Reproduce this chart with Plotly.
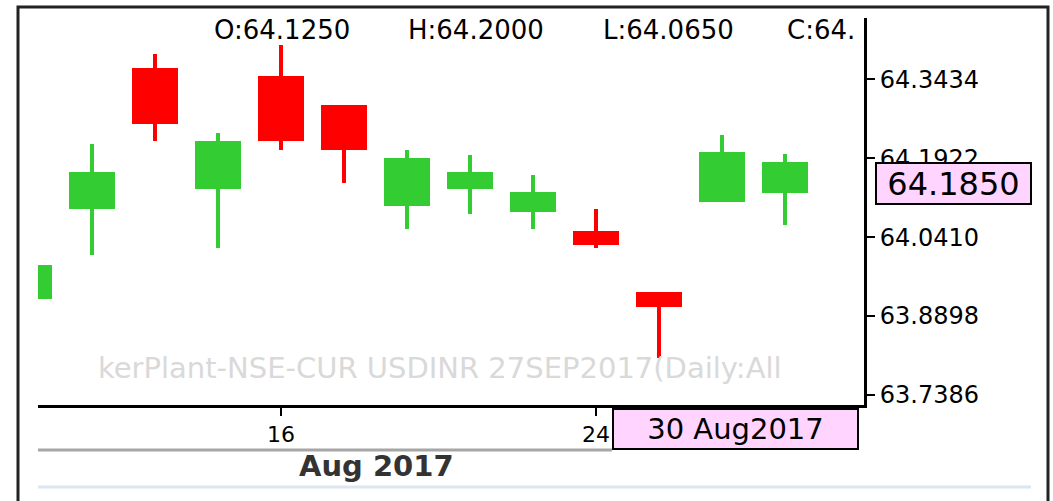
import plotly.graph_objects as go

# ---------------- data ----------------
dates = ["2017-08-09", "2017-08-10", "2017-08-11", "2017-08-14", "2017-08-16", "2017-08-18",
         "2017-08-21", "2017-08-22", "2017-08-23", "2017-08-24", "2017-08-28", "2017-08-29",
         "2017-08-30"]
open_ = [63.9225, 64.0950, 64.3650, 64.1325, 64.3500, 64.2950, 64.1000, 64.1325, 64.0900,
         64.0525, 63.9350, 64.1075, 64.1250]
high = [64.0000, 64.2200, 64.3925, 64.2400, 64.4100, 64.2950, 64.2075, 64.1975, 64.1600,
        64.0950, 63.9350, 64.2375, 64.2000]
low = [63.9150, 64.0075, 64.2250, 64.0200, 64.2075, 64.1450, 64.0575, 64.0850, 64.0575,
       64.0200, 63.8100, 64.1075, 64.0650]
close = [63.9875, 64.1650, 64.2575, 64.2250, 64.2250, 64.2075, 64.1925, 64.1650, 64.1275,
         64.0250, 63.9075, 64.2050, 64.1850]

y_tick_values = [63.7386, 63.8898, 64.0410, 64.1922, 64.3434]
y_tick_labels = ["63.7386", "63.8898", "64.0410", "64.1922", "64.3434"]
x_tick_dates = ["2017-08-16", "2017-08-24"]
x_tick_labels = ["16", "24"]

header_parts = ["O:64.1250", "H:64.2000", "L:64.0650", "C:64."]
watermark = "kerPlant-NSE-CUR USDINR 27SEP2017(Daily:All"
last_price_label = "64.1850"
last_date_label = "30 Aug2017"
period_label = "Aug 2017"

# ---------------- styling ----------------
UP = "#33CC33"
DOWN = "#FF0000"
PINK = "#FFD4FF"
FONT = "DejaVu Sans"

W, H = 1053, 501
L, R, T, B = 38, 189, 18, 96
PW, PH = W - L - R, H - T - B


def px(x):
    return (x - L) / PW


def py(y):
    return (H - B - y) / PH


colors = [UP if c >= o else DOWN for o, c in zip(open_, close)]
body_base = [min(o, c) for o, c in zip(open_, close)]
body_len = [abs(c - o) for o, c in zip(open_, close)]
wick_len = [h - l for h, l in zip(high, low)]

fig = go.Figure()
fig.add_trace(go.Bar(x=dates, y=wick_len, base=low, width=0.064,
                     marker=dict(color=colors, line=dict(width=0)), hoverinfo="skip"))
fig.add_trace(go.Bar(x=dates, y=body_len, base=body_base, width=0.73,
                     marker=dict(color=colors, line=dict(width=0)), hoverinfo="skip"))

fig.update_layout(
    width=W, height=H, autosize=False,
    margin=dict(l=L, r=R, t=T, b=B, pad=0),
    paper_bgcolor="white", plot_bgcolor="white",
    barmode="overlay", bargap=0, showlegend=False, hovermode=False,
    font=dict(family=FONT, color="black"),
    xaxis=dict(type="category", range=[0.1429, 13.254], showgrid=False, zeroline=False,
               showline=True, linecolor="black", linewidth=3,
               ticks="outside", ticklen=8, tickwidth=2, tickcolor="black",
               tickvals=x_tick_dates, ticktext=x_tick_labels,
               tickfont=dict(family=FONT, size=22, color="black")),
    yaxis=dict(side="right", range=[63.7193, 64.4609], showgrid=False, zeroline=False,
               showline=True, linecolor="black", linewidth=3,
               ticks="outside", ticklen=8, tickwidth=2, tickcolor="black",
               tickvals=y_tick_values, ticktext=y_tick_labels,
               tickfont=dict(family=FONT, size=24, color="black")),
)

# outer frame and separator lines
fig.add_shape(type="rect", xref="paper", yref="paper",
              x0=px(18), x1=px(1048), y0=py(503), y1=py(7),
              line=dict(color="#222222", width=3), fillcolor="rgba(0,0,0,0)", layer="above")
fig.add_shape(type="line", xref="paper", yref="paper",
              x0=px(38), x1=px(612), y0=py(450), y1=py(450),
              line=dict(color="#A6A6A6", width=3))
fig.add_shape(type="line", xref="paper", yref="paper",
              x0=px(38), x1=px(1031), y0=py(487), y1=py(487),
              line=dict(color="#DCE6F0", width=3))

# header OHLC texts
header_x = [282, 476, 668]
for txt, x in zip(header_parts[:3], header_x):
    fig.add_annotation(text=txt, xref="paper", yref="paper", x=px(x), y=py(30),
                       xanchor="center", yanchor="middle", showarrow=False,
                       font=dict(family=FONT, size=26, color="black"))
fig.add_annotation(text=header_parts[3], xref="paper", yref="paper", x=px(857), y=py(30),
                   xanchor="right", yanchor="middle", showarrow=False,
                   font=dict(family=FONT, size=26, color="black"))

# watermark
fig.add_annotation(text=watermark, xref="paper", yref="paper", x=px(440), y=py(368),
                   xanchor="center", yanchor="middle", showarrow=False,
                   font=dict(family=FONT, size=29, color="#D9D9D9"))

# last price box
fig.add_annotation(text=last_price_label, xref="paper", yref="paper",
                   x=px(875), y=py(162), xanchor="left", yanchor="top", showarrow=False,
                   width=153, height=39, borderpad=0, borderwidth=2, bordercolor="black",
                   bgcolor=PINK, align="center",
                   font=dict(family=FONT, size=32, color="black"))

# last date box
fig.add_annotation(text=last_date_label, xref="paper", yref="paper",
                   x=px(612), y=py(408), xanchor="left", yanchor="top", showarrow=False,
                   width=243, height=38, borderpad=0, borderwidth=2, bordercolor="black",
                   bgcolor=PINK, align="center",
                   font=dict(family=FONT, size=29, color="black"))

# month label
fig.add_annotation(text="<b>" + period_label + "</b>", xref="paper", yref="paper",
                   x=px(376), y=py(466), xanchor="center", yanchor="middle", showarrow=False,
                   font=dict(family=FONT, size=29, color="#333333"))

fig.write_html("out.html")
